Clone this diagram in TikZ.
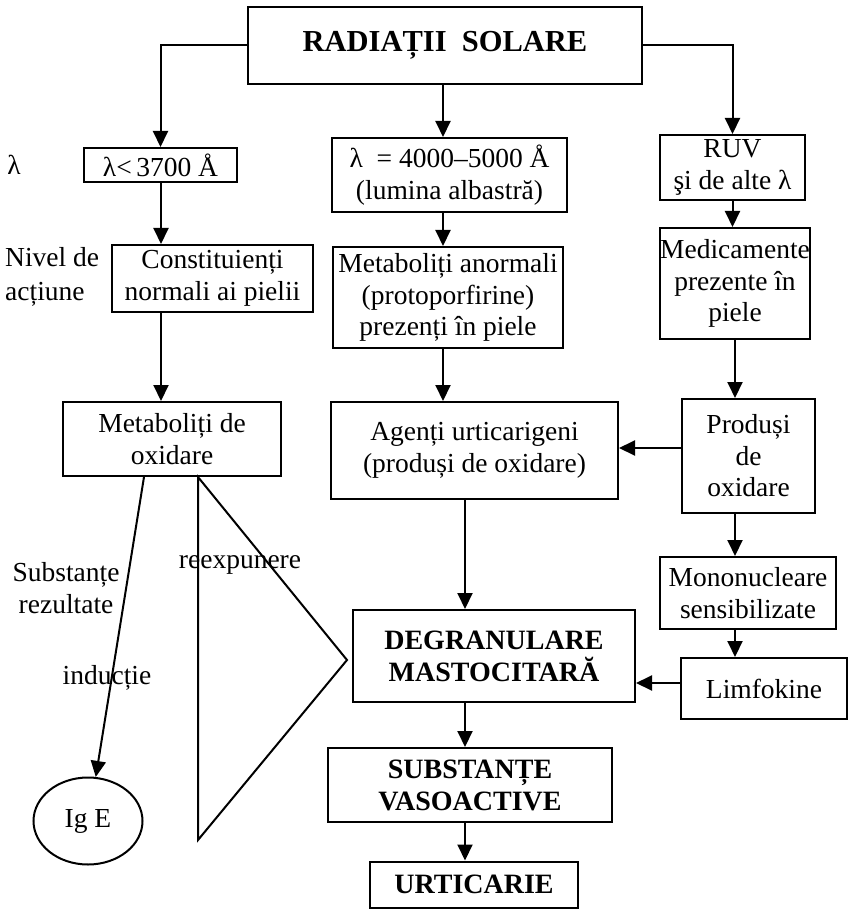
\documentclass[tikz,border=0pt]{standalone}
\usepackage{fontspec}
\setmainfont{Liberation Serif}
\usetikzlibrary{arrows.meta,shapes.geometric,calc}
\begin{document}
\begin{tikzpicture}[x=1pt,y=-1pt,
  box/.style={draw, line width=2pt, inner sep=0pt, align=center,
              font=\fontsize{27.5}{31.5}\selectfont},
  bbox/.style={box, font=\fontsize{28}{32}\selectfont\bfseries},
  arr/.style={line width=2pt, -{Triangle[length=16pt,width=15pt]}},
  ln/.style={line width=2pt, line join=miter},
  lbl/.style={inner sep=0pt, font=\fontsize{27.5}{31.5}\selectfont}]
\useasboundingbox (0,0) rectangle (850,909);

% column axes for the vertical connectors
\coordinate (axl) at (161,0);
\coordinate (axm) at (443,0);
\coordinate (axd) at (465,0);
\coordinate (axr) at (735,0);

% source
\node[bbox, font=\fontsize{30.5}{34}\selectfont\bfseries,
      minimum width=394pt, minimum height=77pt] (top) at (445,45.5) {RADIAȚII\ \ SOLARE};

% left column
\node[box, minimum width=153pt, minimum height=34pt] (l1) at (160.5,165) {λ<\,3700 Å};
\node[box, minimum width=201pt, minimum height=67pt] (l2) at (212.5,278.5) {Constituienți\\normali ai pielii};
\node[box, minimum width=218pt, minimum height=74pt] (l3) at (172,439) {Metaboliți de\\oxidare};
\node[draw, ellipse, line width=2pt, inner sep=0pt, minimum width=109pt, minimum height=87pt,
      font=\fontsize{27.5}{31.5}\selectfont] (ige) at (88,821) {Ig E};

% middle column
\node[box, minimum width=235pt, minimum height=74pt] (m1) at (449.5,175) {λ\ \ = 4000–5000 Å\\(lumina albastră)};
\node[box, minimum width=230pt, minimum height=101pt] (m2) at (448,297.5) {Metaboliți anormali\\(protoporfirine)\\prezenți în piele};
\node[box, minimum width=287pt, minimum height=97pt] (m3) at (474.5,450.5) {Agenți urticarigeni\\(produși de oxidare)};
\node[bbox, minimum width=282pt, minimum height=92pt] (m4) at (494,656) {DEGRANULARE\\MASTOCITARĂ};
\node[bbox, minimum width=284pt, minimum height=74pt] (m5) at (470,785) {SUBSTANȚE\\VASOACTIVE};
\node[bbox, minimum width=208pt, minimum height=46pt] (m6) at (474,884.5) {URTICARIE};

% right column
\node[box, minimum width=145pt, minimum height=65pt] (r1) at (732.5,167.5) {RUV\\şi de alte λ};
\node[box, minimum width=148pt, minimum height=111pt] (r2) at (735,283.5) {Medicamente\\prezente în\\piele};
\node[box, minimum width=133pt, minimum height=114pt] (r3) at (748.5,456) {Produși\\de\\oxidare};
\node[box, minimum width=176pt, minimum height=72pt] (r4) at (748,593) {Mononucleare\\sensibilizate};
\node[box, minimum width=166pt, minimum height=61pt] (r5) at (764,688.5) {Limfokine};

% side labels
\node[lbl] (lam) at (14,165) {λ};
\node[lbl, align=left, anchor=west] (niv) at (5,277) {Nivel de\\[2pt]acțiune};
\node[lbl, align=center] (subst) at (66,588) {Substanțe\\rezultate};
\node[lbl] (reexp) at (240,565) {reexpunere};
\node[lbl] (induc) at (107,678) {inducție};

% branches from the source
\draw[arr] (top.west) -| (l1.north);
\draw[arr] (top.east) -| (r1.north);
\draw[arr] (top.south -| axm) -- (m1.north -| axm);

% left chain
\draw[arr] (l1.south -| axl) -- (l2.north -| axl);
\draw[arr] (l2.south -| axl) -- (l3.north -| axl);
\draw[arr] ([xshift=-28pt]l3.south) -- (ige.80);

% reexposure wedge
\coordinate (tt) at ([xshift=26pt]l3.south);
\coordinate (tb) at (198,840);
\coordinate (ta) at ([xshift=-5pt,yshift=-4pt]m4.west);
\draw[ln] (tt) -- (tb) -- (ta) -- cycle;

% middle chain
\draw[arr] (m1.south -| axm) -- (m2.north -| axm);
\draw[arr] (m2.south -| axm) -- (m3.north -| axm);
\draw[arr] (m3.south -| axd) -- (m4.north -| axd);
\draw[arr] (m4.south -| axd) -- (m5.north -| axd);
\draw[arr] (m5.south -| axd) -- (m6.north -| axd);

% right chain
\draw[arr] (r1.south) -- (r1.south |- r2.north);
\draw[arr] (r2.south -| axr) -- (r3.north -| axr);
\draw[arr] (r3.south -| axr) -- (r4.north -| axr);
\draw[arr] (r4.south -| axr) -- (r5.north -| axr);

% cross links
\draw[arr] ([yshift=8pt]r3.west) -- ([yshift=8pt]r3.west -| m3.east);
\draw[arr] ([yshift=5.5pt]r5.west) -- ([yshift=5.5pt]r5.west -| m4.east);
\end{tikzpicture}
\end{document}
